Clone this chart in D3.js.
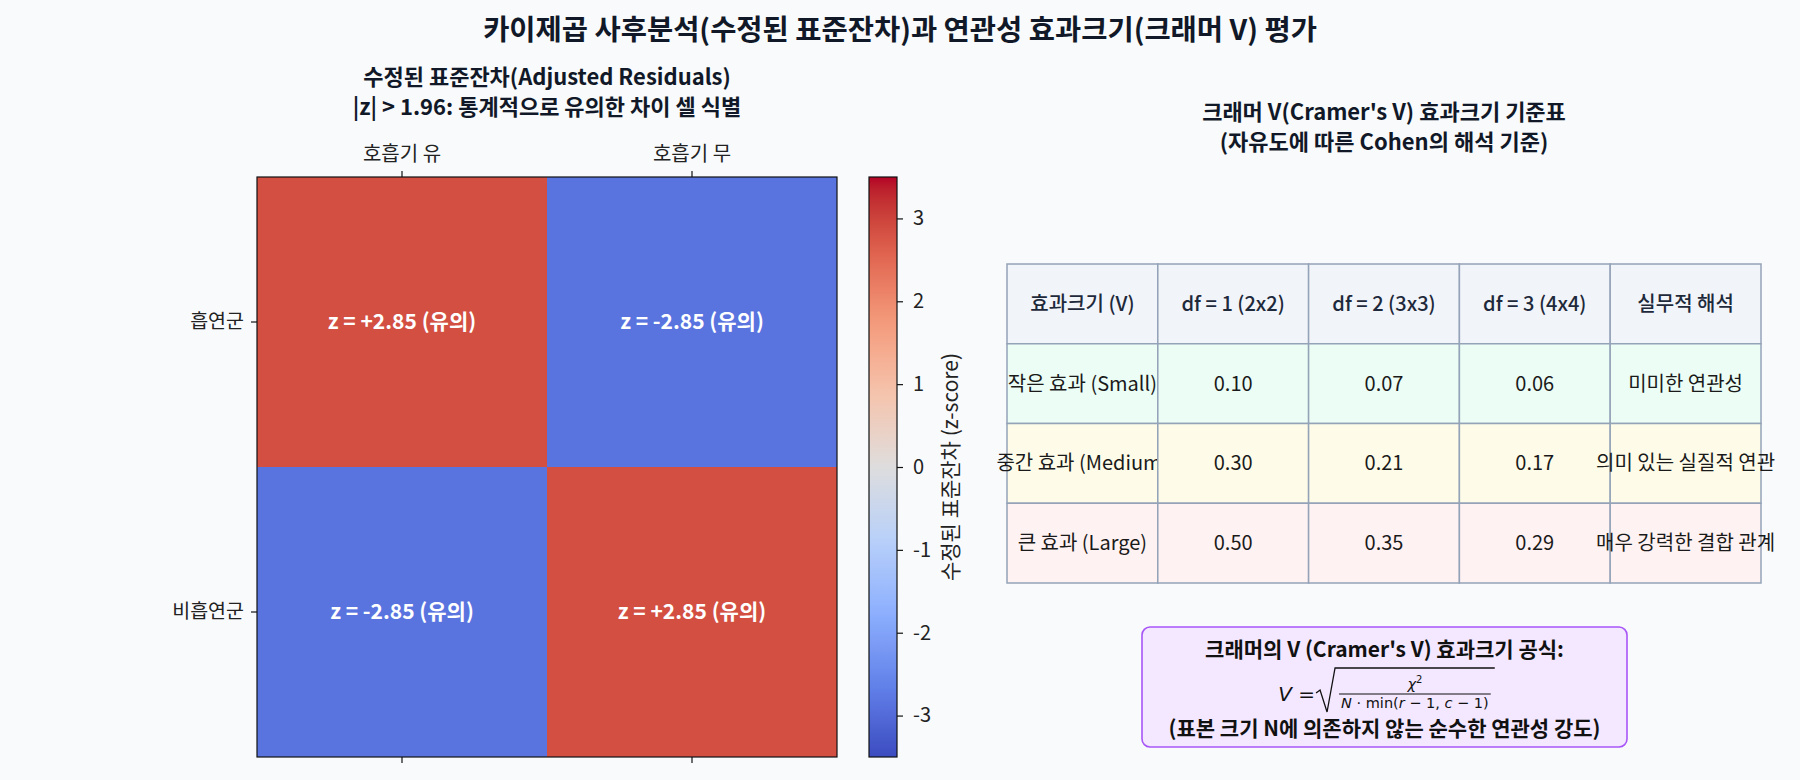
<!DOCTYPE html>
<html>
<head>
<meta charset="utf-8">
<title>Adjusted residuals and Cramer's V</title>
<script src="https://cdn.jsdelivr.net/npm/d3@7/dist/d3.min.js"></script>
<style>
  body { margin: 0; background: #f8fafc; }
  svg { display: block; }
  text { font-family: "Noto Sans CJK KR", "Noto Sans", sans-serif; }
</style>
</head>
<body>
<svg id="chart" width="1800" height="780"></svg>
<script>
// ---- data ----
const rowLabels = ['흡연군', '비흡연군'];
const colLabels = ['호흡기 유', '호흡기 무'];
const zValues = [[2.85, -2.85], [-2.85, 2.85]];
const zCritical = 1.96;
const cbTicks = [-3, -2, -1, 0, 1, 2, 3];
const zDomain = [-3.5, 3.5];

const tableHeader = ['효과크기 (V)', 'df = 1 (2x2)', 'df = 2 (3x3)', 'df = 3 (4x4)', '실무적 해석'];
const effectLabels = ['작은 효과 (Small)', '중간 효과 (Medium)', '큰 효과 (Large)'];
const vDf1 = [0.10, 0.30, 0.50];
const vDf2 = [0.07, 0.21, 0.35];
const vDf3 = [0.06, 0.17, 0.29];
const interpretations = ['미미한 연관성', '의미 있는 실질적 연관', '매우 강력한 결합 관계'];
const rowColors = ['#ecfdf5', '#fefce8', '#fef2f2'];

// coolwarm colormap anchors
const coolwarm = d3.scaleLinear()
  .domain(d3.range(9).map(i => i / 8))
  .range(['#3b4cc0', '#6282ea', '#8db0fe', '#b8d0f9', '#dddddd',
          '#f5c4ad', '#f49a7b', '#de604d', '#b40426'])
  .interpolate(d3.interpolateLab);

const svg = d3.select('#chart');
const ink = '#111827';

// ---- titles ----
svg.append('text').attr('x', 900).attr('y', 40).attr('text-anchor', 'middle')
  .attr('font-size', 28.5).attr('font-weight', 'bold').attr('fill', ink)
  .text('카이제곱 사후분석(수정된 표준잔차)과 연관성 효과크기(크래머 V) 평가');

// ---- heatmap ----
const hm = { left: 257, right: 837, top: 177, bottom: 757 };
const x = d3.scaleBand().domain(colLabels).range([hm.left, hm.right]);
const y = d3.scaleBand().domain(rowLabels).range([hm.top, hm.bottom]);
const zNorm = d3.scaleLinear().domain(zDomain).range([0, 1]).clamp(true);

const subT = svg.append('text').attr('text-anchor', 'middle')
  .attr('font-size', 22).attr('font-weight', 'bold').attr('fill', ink);
subT.append('tspan').attr('x', (hm.left + hm.right) / 2).attr('y', 85).text('수정된 표준잔차(Adjusted Residuals)');
subT.append('tspan').attr('x', (hm.left + hm.right) / 2).attr('y', 115).text('|z| > 1.96: 통계적으로 유의한 차이 셀 식별');

const cells = [];
rowLabels.forEach((r, i) => colLabels.forEach((c, j) => cells.push({ r, c, z: zValues[i][j] })));

svg.append('g').selectAll('rect').data(cells).join('rect')
  .attr('x', d => x(d.c)).attr('y', d => y(d.r))
  .attr('width', x.bandwidth()).attr('height', y.bandwidth())
  .attr('fill', d => coolwarm(zNorm(d.z)));

svg.append('g').selectAll('text').data(cells).join('text')
  .attr('x', d => x(d.c) + x.bandwidth() / 2).attr('y', d => y(d.r) + y.bandwidth() / 2)
  .attr('dy', '0.35em').attr('text-anchor', 'middle')
  .attr('font-size', 21).attr('font-weight', 'bold').attr('fill', '#ffffff')
  .text(d => `z = ${d.z > 0 ? '+' : ''}${d.z.toFixed(2)}${Math.abs(d.z) > zCritical ? ' (유의)' : ''}`);

svg.append('rect').attr('x', hm.left).attr('y', hm.top)
  .attr('width', hm.right - hm.left).attr('height', hm.bottom - hm.top)
  .attr('fill', 'none').attr('stroke', '#111').attr('stroke-width', 1.2);

function styleAxis(g, fs) {
  g.select('.domain').remove();
  g.selectAll('.tick line').attr('stroke', '#111').attr('stroke-width', 1.2);
  g.selectAll('.tick text').attr('font-size', fs).attr('fill', '#222')
    .attr('font-family', '"Noto Sans CJK KR", sans-serif');
}
svg.append('g').attr('transform', `translate(0,${hm.top})`)
  .call(d3.axisTop(x).tickSize(6).tickPadding(10)).call(g => styleAxis(g, 20));
svg.append('g').attr('transform', `translate(0,${hm.bottom})`)
  .call(d3.axisBottom(x).tickSize(6).tickFormat('')).call(g => styleAxis(g, 20));
svg.append('g').attr('transform', `translate(${hm.left},0)`)
  .call(d3.axisLeft(y).tickSize(6).tickPadding(7)).call(g => styleAxis(g, 19.5));

// ---- colorbar ----
const cb = { left: 869, right: 897, top: 177, bottom: 757 };
const cbScale = d3.scaleLinear().domain(zDomain).range([cb.bottom, cb.top]);
const grad = svg.append('defs').append('linearGradient').attr('id', 'cbGrad')
  .attr('x1', 0).attr('y1', 1).attr('x2', 0).attr('y2', 0);
d3.range(0, 1.0001, 0.02).forEach(t => grad.append('stop')
  .attr('offset', t).attr('stop-color', coolwarm(t)));
svg.append('rect').attr('x', cb.left).attr('y', cb.top)
  .attr('width', cb.right - cb.left).attr('height', cb.bottom - cb.top)
  .attr('fill', 'url(#cbGrad)').attr('stroke', '#111').attr('stroke-width', 1.2);
svg.append('g').attr('transform', `translate(${cb.right},0)`)
  .call(d3.axisRight(cbScale).tickValues(cbTicks).tickSize(6).tickPadding(10)
    .tickFormat(d => String(d))).call(g => styleAxis(g, 20));
svg.append('text').attr('transform', `translate(951,${(cb.top + cb.bottom) / 2}) rotate(-90)`)
  .attr('text-anchor', 'middle').attr('dy', '0.35em')
  .attr('font-size', 21).attr('fill', '#222').text('수정된 표준잔차 (z-score)');

// ---- table ----
const tb = { left: 1007, right: 1761, top: 264, bottom: 583 };
const tx = d3.scaleBand().domain(d3.range(tableHeader.length)).range([tb.left, tb.right]);
const ty = d3.scaleBand().domain(d3.range(effectLabels.length + 1)).range([tb.top, tb.bottom]);

const tTitle = svg.append('text').attr('text-anchor', 'middle')
  .attr('font-size', 22).attr('font-weight', 'bold').attr('fill', ink);
tTitle.append('tspan').attr('x', (tb.left + tb.right) / 2).attr('y', 120).text("크래머 V(Cramer's V) 효과크기 기준표");
tTitle.append('tspan').attr('x', (tb.left + tb.right) / 2).attr('y', 150).text('(자유도에 따른 Cohen의 해석 기준)');

const tableRows = [tableHeader].concat(effectLabels.map((e, i) =>
  [e, vDf1[i].toFixed(2), vDf2[i].toFixed(2), vDf3[i].toFixed(2), interpretations[i]]));

const tg = svg.append('g');
tableRows.forEach((row, i) => row.forEach((val, j) => {
  tg.append('rect').attr('x', tx(j)).attr('y', ty(i))
    .attr('width', tx.bandwidth()).attr('height', ty.bandwidth())
    .attr('fill', i === 0 ? '#f1f5f9' : rowColors[i - 1])
    .attr('stroke', '#94a3b8').attr('stroke-width', 1.5);
  tg.append('text').attr('x', tx(j) + tx.bandwidth() / 2).attr('y', ty(i) + ty.bandwidth() / 2)
    .attr('dy', '0.35em').attr('text-anchor', 'middle')
    .attr('font-size', 20).attr('font-weight', i === 0 ? 500 : 'normal')
    .attr('fill', i === 0 ? '#1e293b' : '#1a1a1a').text(val);
}));

// ---- formula box ----
const fb = { left: 1142, right: 1627, top: 627, bottom: 747 };
const fcx = (fb.left + fb.right) / 2;
svg.append('rect').attr('x', fb.left).attr('y', fb.top)
  .attr('width', fb.right - fb.left).attr('height', fb.bottom - fb.top)
  .attr('rx', 8).attr('fill', '#f3e8ff').attr('stroke', '#a855f7').attr('stroke-width', 1.6);
svg.append('text').attr('x', fcx).attr('y', 657).attr('text-anchor', 'middle')
  .attr('font-size', 21).attr('font-weight', 'bold').attr('fill', '#111')
  .text("크래머의 V (Cramer's V) 효과크기 공식:");
svg.append('text').attr('x', fcx).attr('y', 736).attr('text-anchor', 'middle')
  .attr('font-size', 21).attr('font-weight', 'bold').attr('fill', '#111')
  .text('(표본 크기 N에 의존하지 않는 순수한 연관성 강도)');

const mg = svg.append('g').attr('fill', '#111');
const lhs = mg.append('text').attr('y', 701).attr('font-size', 20).style('font-family', '"DejaVu Sans"');
lhs.append('tspan').attr('font-style', 'italic').text('V');
lhs.append('tspan').text(' = ');
const num = mg.append('text').attr('y', 689).attr('font-size', 14.5).attr('text-anchor', 'middle').style('font-family', '"DejaVu Sans"');
num.append('tspan').attr('font-style', 'italic').text('χ');
num.append('tspan').attr('font-size', 10).attr('dy', -6).text('2');
const den = mg.append('text').attr('y', 708).attr('font-size', 14.5).attr('text-anchor', 'middle').style('font-family', '"DejaVu Sans"');
[['N', true], [' · min(', false], ['r', true], [' − 1, ', false], ['c', true], [' − 1)', false]]
  .forEach(([s, it]) => den.append('tspan').attr('font-style', it ? 'italic' : 'normal').text(s));

const lhsW = lhs.node().getComputedTextLength();
const fracW = Math.max(num.node().getComputedTextLength(), den.node().getComputedTextLength()) + 4;
const radW = 24;
const x0 = fcx - (lhsW + radW + fracW) / 2;
lhs.attr('x', x0);
const rx = x0 + lhsW;
const fx = rx + radW;
num.attr('x', fx + fracW / 2);
den.attr('x', fx + fracW / 2);
mg.append('path')
  .attr('d', `M${rx + 1},${693} L${rx + 5},${690} L${rx + 12},${712} L${rx + 20},${668} L${fx + fracW + 4},${668}`)
  .attr('fill', 'none').attr('stroke', '#111').attr('stroke-width', 1.3);
mg.append('line').attr('x1', fx).attr('x2', fx + fracW).attr('y1', 694).attr('y2', 694)
  .attr('stroke', '#111').attr('stroke-width', 1);
</script>
</body>
</html>
